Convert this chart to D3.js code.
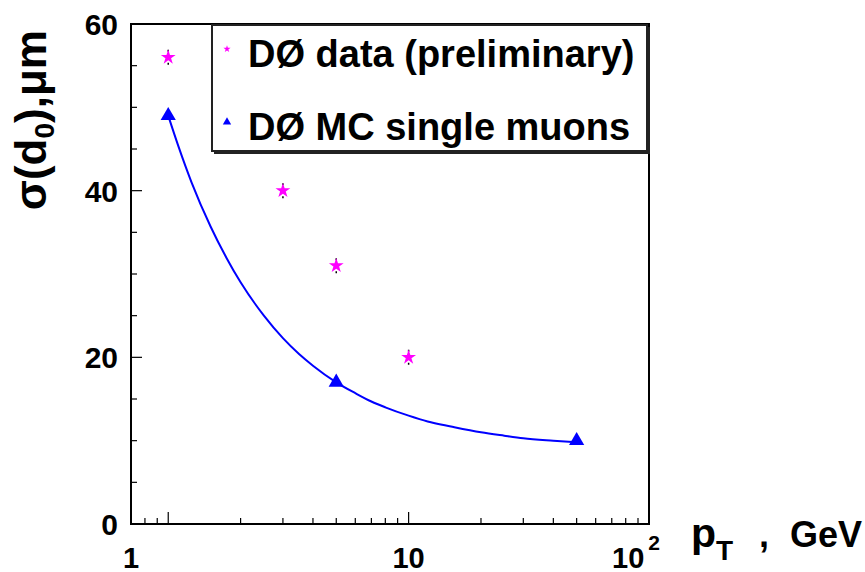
<!DOCTYPE html>
<html>
<head>
<meta charset="utf-8">
<script src="https://cdn.jsdelivr.net/npm/d3@7"></script>
<style>
  body { margin: 0; background: #fff; }
  svg text { font-family: "Liberation Sans", Arial, sans-serif; font-weight: bold; fill: #000; }
</style>
</head>
<body>
<div id="chart"></div>
<script>
// D0 data points (preliminary)
var dataPt = [1, 3, 5, 10];
var dataSigma = [56, 40, 31, 20];
var dataErr = [0.9, 0.9, 0.9, 0.9];

// D0 MC single muons
var mcPt = [1, 5, 50];
var mcSigma = [49, 17, 10];

// fitted curve through the MC points
var fitPt = [1, 1.1, 1.25, 1.5, 1.75, 2, 2.5, 3, 3.5, 4, 5, 6, 7, 8, 10, 12, 15, 20, 25, 30, 40, 50];
var fitSigma = [49, 45.4, 41, 35.7, 31.9, 29, 25, 22.3, 20.4, 19, 17, 15.7, 14.7, 14, 13, 12.3, 11.7, 11, 10.6, 10.3, 10, 9.8];

// axes
var yMajor = [0, 20, 40, 60];
var xMajor = [1, 10, 100];
var xLabels = ["1", "10", "10"];
var xLabelSup = ["", "", "2"];
var legendLabels = ["DØ data (preliminary)", "DØ MC single muons"];

var width = 865, height = 572;
var plotLeft = 131, plotRight = 649, plotTop = 24, plotBottom = 524;

var svg = d3.select("#chart").append("svg")
    .attr("width", width)
    .attr("height", height);

var x = d3.scaleLog().domain([0.7, 100]).range([plotLeft, plotRight]);
var y = d3.scaleLinear().domain([0, 60]).range([plotBottom, plotTop]);

// y ticks (inside the frame)
svg.append("g").selectAll("line")
    .data(d3.range(0, 61, 5))
    .enter().append("line")
    .attr("x1", plotLeft)
    .attr("x2", function(d) { return plotLeft + (d % 20 === 0 ? 11 : 6); })
    .attr("y1", function(d) { return y(d); })
    .attr("y2", function(d) { return y(d); })
    .attr("stroke", "#000")
    .attr("stroke-width", 1.2);

svg.selectAll("text.ylab")
    .data(yMajor)
    .enter().append("text")
    .attr("class", "ylab")
    .attr("x", 118)
    .attr("y", function(d) { return y(d) + 11; })
    .attr("text-anchor", "end")
    .attr("font-size", 30)
    .text(function(d) { return d; });

// x ticks (log, inside the frame)
var xMinor = [];
[0.1, 1, 10].forEach(function(dec) {
    for (var k = 1; k <= 9; k++) {
        var v = dec * k;
        if (v >= 0.7 && v <= 100) xMinor.push(v);
    }
});
svg.append("g").selectAll("line")
    .data(xMinor.concat([100]))
    .enter().append("line")
    .attr("x1", function(d) { return x(d); })
    .attr("x2", function(d) { return x(d); })
    .attr("y1", plotBottom)
    .attr("y2", function(d) {
        var lg = Math.log10(d);
        return Math.abs(lg - Math.round(lg)) < 1e-9 ? plotBottom - 12 : plotBottom - 6;
    })
    .attr("stroke", "#000")
    .attr("stroke-width", 1.2);

// x labels; ROOT puts the first one at the left edge of the frame
var xl = svg.selectAll("text.xlab")
    .data(xMajor)
    .enter().append("text")
    .attr("class", "xlab")
    .attr("x", function(d, i) { return i === 0 ? plotLeft : x(d) - (xLabelSup[i] ? 13 : 0); })
    .attr("y", 568)
    .attr("text-anchor", "middle")
    .attr("font-size", 29);
xl.append("tspan").text(function(d, i) { return xLabels[i]; });
xl.append("tspan")
    .attr("font-size", 21)
    .attr("dx", 4)
    .attr("dy", -18)
    .text(function(d, i) { return xLabelSup[i]; });

// frame
svg.append("rect")
    .attr("x", plotLeft)
    .attr("y", plotTop)
    .attr("width", plotRight - plotLeft)
    .attr("height", plotBottom - plotTop)
    .attr("fill", "none")
    .attr("stroke", "#000")
    .attr("stroke-width", 2);

// axis titles
var xt = svg.append("text")
    .attr("y", 547)
    .attr("font-size", 36);
xt.append("tspan").attr("x", 691).attr("font-size", 41).text("p");
xt.append("tspan").attr("font-size", 28).attr("dy", 13).text("T");
xt.append("tspan").attr("x", 759).attr("dy", -13).text(",");
xt.append("tspan").attr("x", 790).text("GeV");

var yt = svg.append("text")
    .attr("transform", "translate(46,30) rotate(-90)")
    .attr("text-anchor", "end")
    .attr("font-size", 44);
yt.append("tspan").text("σ(d");
yt.append("tspan").attr("font-size", 28).attr("dy", 8).text("0");
yt.append("tspan").attr("dy", -8).text("),μm");

// fit curve
var line = d3.line()
    .x(function(d) { return x(d[0]); })
    .y(function(d) { return y(d[1]); })
    .curve(d3.curveMonotoneX);

svg.append("path")
    .datum(d3.zip(fitPt, fitSigma))
    .attr("d", line)
    .attr("fill", "none")
    .attr("stroke", "#0000ff")
    .attr("stroke-width", 2);

// MC triangles
svg.selectAll("path.mc")
    .data(d3.zip(mcPt, mcSigma))
    .enter().append("path")
    .attr("class", "mc")
    .attr("d", d3.symbol().type(d3.symbolTriangle).size(100))
    .attr("transform", function(d) { return "translate(" + x(d[0]) + "," + y(d[1]) + ")"; })
    .attr("fill", "#0000ff");

// data error bars and stars
var pts = d3.zip(dataPt, dataSigma, dataErr);
svg.selectAll("line.err")
    .data(pts)
    .enter().append("line")
    .attr("x1", function(d) { return x(d[0]); })
    .attr("x2", function(d) { return x(d[0]); })
    .attr("y1", function(d) { return y(d[1] - d[2]); })
    .attr("y2", function(d) { return y(d[1] + d[2]); })
    .attr("stroke", "#000")
    .attr("stroke-width", 1.5)
    .attr("stroke-dasharray", "2,11");

svg.selectAll("path.star")
    .data(pts)
    .enter().append("path")
    .attr("d", d3.symbol().type(d3.symbolStar).size(68))
    .attr("transform", function(d) { return "translate(" + x(d[0]) + "," + y(d[1]) + ")"; })
    .attr("fill", "#ff00ff");

// legend
var lg = svg.append("g");
lg.append("rect")
    .attr("x", 214).attr("y", 27).attr("width", 436).attr("height", 127)
    .attr("fill", "#222");
lg.append("rect")
    .attr("x", 212).attr("y", 25).attr("width", 435).attr("height", 126)
    .attr("fill", "#fff")
    .attr("stroke", "#222")
    .attr("stroke-width", 2);

var legendSymbols = [d3.symbolStar, d3.symbolTriangle];
var legendColors = ["#ff00ff", "#0000ff"];
var legendSizes = [16, 30];
var legendY = [49, 122];
legendLabels.forEach(function(t, i) {
    lg.append("path")
        .attr("d", d3.symbol().type(legendSymbols[i]).size(legendSizes[i]))
        .attr("transform", "translate(227," + legendY[i] + ")")
        .attr("fill", legendColors[i]);
    lg.append("text")
        .attr("x", 248)
        .attr("y", legendY[i] + 18)
        .attr("font-size", 38)
        .text(t);
});
</script>
</body>
</html>
